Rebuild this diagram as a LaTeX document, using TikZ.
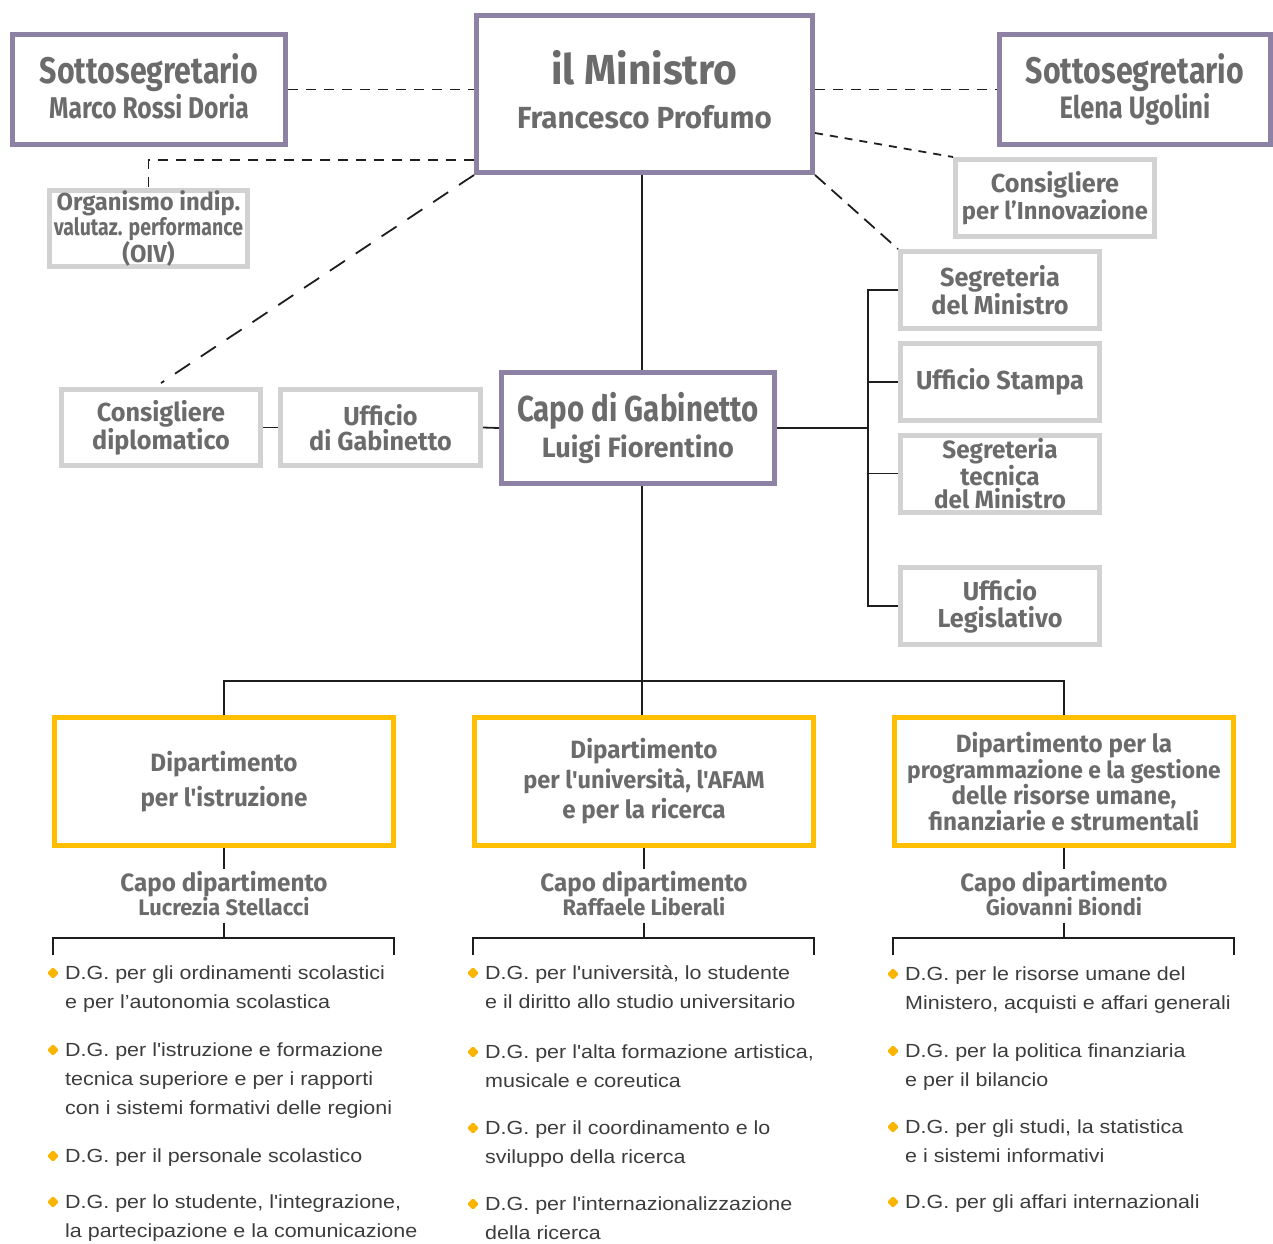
\documentclass[tikz,border=0pt]{standalone}
\usepackage{fontspec}
\setmainfont{Liberation Sans}
\newfontfamily\hdr[FakeStretch=0.82]{Fira Sans}
\newfontfamily\hdrw[FakeStretch=0.97]{Fira Sans}
\newfontfamily\dgf[FakeStretch=1.13]{Liberation Sans}
\usetikzlibrary{shapes.geometric}
\definecolor{purp}{HTML}{8E82A4}
\definecolor{lgray}{HTML}{D2D2D2}
\definecolor{gold}{HTML}{FFBF00}
\definecolor{bulgold}{HTML}{F9B500}
\definecolor{txtgray}{HTML}{6B6B6B}
\definecolor{dgtext}{HTML}{3C3C3C}
\definecolor{linec}{HTML}{1E1E1E}
\newcommand\fsz[2]{\fontsize{#1}{#2}\selectfont}
\tikzset{
  box/.style={draw, rectangle, line width=5pt, inner sep=0pt, align=center, text=txtgray},
  pbox/.style={box, draw=purp},
  gbox/.style={box, draw=lgray, font={\hdrw\bfseries\fsz{26}{24}}},
  ybox/.style={box, draw=gold, minimum width=339pt, minimum height=128pt},
  rbox/.style={gbox, minimum width=199pt, minimum height=77pt},
  capolbl/.style={inner sep=0pt, align=center, text=txtgray, font={\hdrw\bfseries\fsz{25}{24}}},
  con/.style={line width=1.8pt, draw=linec},
  dshA/.style={con, dash pattern=on 10pt off 8pt},
  dshB/.style={con, dash pattern=on 18pt off 13pt},
  dshC/.style={con, dash pattern=on 8pt off 7pt},
  dshD/.style={con, dash pattern=on 14pt off 8pt},
  bul/.style={diamond, fill=bulgold, inner sep=0pt, minimum size=12pt, rounded corners=1.5pt},
  item/.style={anchor=base west, align=left, inner sep=0pt, font={\dgf\fsz{19}{29}}, text=dgtext}
}
\begin{document}
\begin{tikzpicture}[x=1pt,y=1pt]
\useasboundingbox (0,0) rectangle (1273,-1243);

% top level
\node[pbox, minimum width=273pt, minimum height=110pt, text depth=7pt, font={\hdr\bfseries\fsz{37}{35}}] (ss1) at (149,-89.5)
  {Sottosegretario\\\fontsize{30}{35}\selectfont Marco Rossi Doria};
\node[pbox, minimum width=336pt, minimum height=157pt, text depth=10pt, font={\hdrw\bfseries\fsz{42}{44}}] (min) at (644.5,-94)
  {il Ministro\\\fontsize{30.5}{44}\selectfont Francesco Profumo};
\node[pbox, minimum width=271pt, minimum height=110pt, text depth=7pt, font={\hdr\bfseries\fsz{37}{35}}] (ss2) at (1135,-89.5)
  {Sottosegretario\\\fontsize{31}{35}\selectfont Elena Ugolini};
\node[gbox, minimum width=199pt, minimum height=77pt, font={\hdrw\bfseries\fsz{26}{22}}] (cinn) at (1055,-198)
  {Consigliere\\\fontsize{24.5}{22}\selectfont per l’Innovazione};
\node[gbox, minimum width=198pt, minimum height=76pt, font={\hdrw\bfseries\fsz{24.5}{22}}] (oiv) at (148.5,-228.5)
  {Organismo indip.\\\hdr\fontsize{23.8}{22}\selectfont valutaz. performance\\(OIV)};

% middle
\node[gbox, minimum width=199pt, minimum height=76pt, font={\hdrw\bfseries\fsz{26}{25}}] (cdip) at (161,-427.5)
  {Consigliere\\diplomatico};
\node[gbox, minimum width=200pt, minimum height=76pt, font={\hdrw\bfseries\fsz{26}{25}}] (ugab) at (380.5,-427.5)
  {Ufficio\\di Gabinetto};
\node[pbox, minimum width=273pt, minimum height=111pt, font={\hdr\bfseries\fsz{36}{36}}] (capo) at (638,-428)
  {Capo di Gabinetto\\\hdrw\fontsize{28}{36}\selectfont Luigi Fiorentino};
\node[rbox, font={\hdrw\bfseries\fsz{26}{26}}] (segm) at (1000,-290) {Segreteria\\del Ministro};
\node[rbox] (ustampa) at (1000,-382) {Ufficio Stampa};
\node[rbox, font={\hdrw\bfseries\fsz{25}{23.5}}] (segt) at (1000,-473.5) {Segreteria\\tecnica\\del Ministro};
\node[rbox, font={\hdrw\bfseries\fsz{26}{27}}] (uleg) at (1000,-606) {Ufficio\\Legislativo};

% departments
\node[ybox, font={\hdrw\bfseries\fsz{25}{35}}] (d1) at (224,-781.5) {Dipartimento\\per l'istruzione};
\node[ybox, font={\hdrw\bfseries\fsz{25}{30}}] (d2) at (644,-781.5) {Dipartimento\\\fontsize{24.3}{30}\selectfont per l'università, l'AFAM\\e per la ricerca};
\node[ybox, font={\hdrw\bfseries\fsz{25}{26}}] (d3) at (1064,-781.5) {Dipartimento per la\\\fontsize{23.5}{26}\selectfont programmazione e la gestione\\delle risorse umane,\\finanziarie e strumentali};

\node[capolbl] (cd1) at (224,-894) {Capo dipartimento\\\fontsize{22.5}{24}\selectfont Lucrezia Stellacci};
\node[capolbl] (cd2) at (644,-894) {Capo dipartimento\\\fontsize{22.5}{24}\selectfont Raffaele Liberali};
\node[capolbl] (cd3) at (1064,-894) {Capo dipartimento\\\fontsize{22.5}{24}\selectfont Giovanni Biondi};

% dashed connectors
\draw[dshA] (ss1.east) -- (ss1.east -| min.west);
\draw[dshA] (min.east |- ss2.west) -- (ss2.west);
\draw[dshA] ([yshift=-66pt]min.west) -| (oiv.north);
\draw[dshB] (min.south west) -- ([yshift=4pt]cdip.north);
\draw[dshC] ([yshift=-39pt]min.east) -- (cinn.north west);
\draw[dshD] (min.south east) -- (segm.north west);

% solid connectors
\coordinate (spine) at (642,-681);
\coordinate (rb) at (868,-428);
\draw[con] (min.south -| spine) -- (capo.north -| spine);
\draw[con] (capo.south -| spine) -- (d2.north -| spine);
\draw[con] (d1.north) |- (spine) -| (d3.north);
\draw[con] (cdip.east) -- (ugab.west);
\draw[con] (ugab.east) -- (capo.west);
\draw[con] (capo.east) -- (rb);
\draw[con] (segm.west) -| (rb) |- (uleg.west);
\draw[con] (ustampa.west -| rb) -- (ustampa.west);
\draw[con] (segt.west -| rb) -- (segt.west);

% department sub-connectors and brackets
\coordinate (b1) at (224,-938);
\coordinate (b2) at (644,-938);
\coordinate (b3) at (1064,-938);
\coordinate (b1l) at (53,-955);  \coordinate (b1r) at (394,-955);
\coordinate (b2l) at (473,-955); \coordinate (b2r) at (814,-955);
\coordinate (b3l) at (893,-955); \coordinate (b3r) at (1234,-955);
\foreach \d/\c/\b/\l/\r in {d1/cd1/b1/b1l/b1r, d2/cd2/b2/b2l/b2r, d3/cd3/b3/b3l/b3r}{
  \draw[con] (\d.south) -- ([yshift=2pt]\c.north);
  \draw[con] ([yshift=-6pt]\c.south) -- (\b);
  \draw[con] (\l) |- (\b) -| (\r);
}

% lists (base anchor = baseline of last line)
\node[bul] (u11) at (53,-973) {};
\node[item] (i11) at (65,-1008) {D.G. per gli ordinamenti scolastici\\e per l’autonomia scolastica};
\node[bul] (u12) at (53,-1050) {};
\node[item] (i12) at (65,-1114) {D.G. per l'istruzione e formazione\\tecnica superiore e per i rapporti\\con i sistemi formativi delle regioni};
\node[bul] (u13) at (53,-1156) {};
\node[item] (i13) at (65,-1162) {D.G. per il personale scolastico};
\node[bul] (u14) at (53,-1202) {};
\node[item] (i14) at (65,-1237) {D.G. per lo studente, l'integrazione,\\la partecipazione e la comunicazione};

\node[bul] (u21) at (473,-973) {};
\node[item] (i21) at (485,-1008) {D.G. per l'università, lo studente\\e il diritto allo studio universitario};
\node[bul] (u22) at (473,-1052) {};
\node[item] (i22) at (485,-1087) {D.G. per l'alta formazione artistica,\\musicale e coreutica};
\node[bul] (u23) at (473,-1128) {};
\node[item] (i23) at (485,-1163) {D.G. per il coordinamento e lo\\sviluppo della ricerca};
\node[bul] (u24) at (473,-1204) {};
\node[item] (i24) at (485,-1239) {D.G. per l'internazionalizzazione\\della ricerca};

\node[bul] (u31) at (893,-974) {};
\node[item] (i31) at (905,-1009) {D.G. per le risorse umane del\\Ministero, acquisti e affari generali};
\node[bul] (u32) at (893,-1051) {};
\node[item] (i32) at (905,-1086) {D.G. per la politica finanziaria\\e per il bilancio};
\node[bul] (u33) at (893,-1127) {};
\node[item] (i33) at (905,-1162) {D.G. per gli studi, la statistica\\e i sistemi informativi};
\node[bul] (u34) at (893,-1202) {};
\node[item] (i34) at (905,-1208) {D.G. per gli affari internazionali};
\end{tikzpicture}
\end{document}
